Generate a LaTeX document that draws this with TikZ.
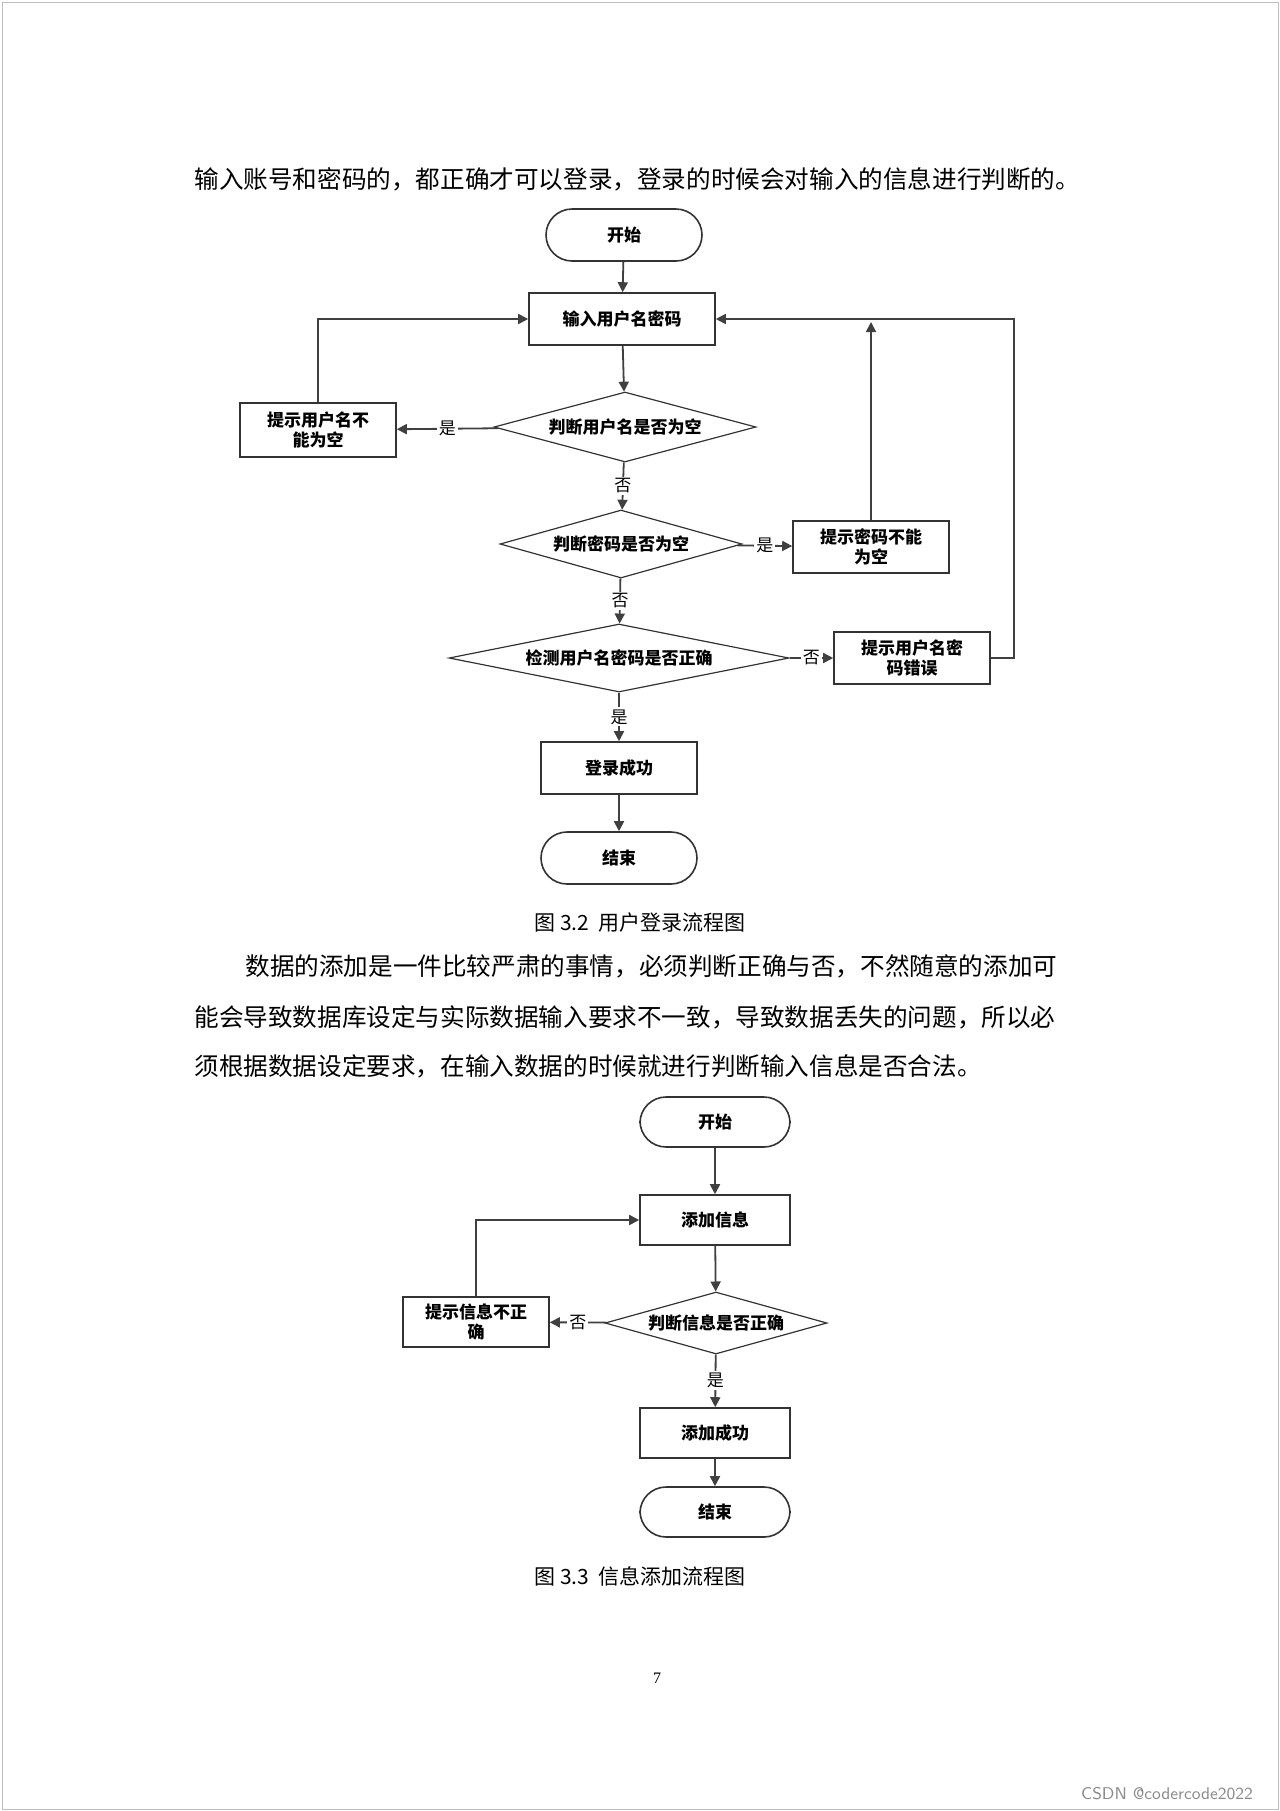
\documentclass[tikz,border=0pt]{standalone}
\usepackage{fontspec}
\setmainfont{Liberation Serif}
\newfontfamily\cjk{Noto Sans CJK SC}
\usetikzlibrary{shapes.geometric,arrows.meta}
\begin{document}
\begin{tikzpicture}[x=0.5pt,y=-0.5pt,
 every node/.style={inner sep=0pt},
 box/.style={draw=black!80,line width=0.8pt,minimum width=78pt,minimum height=26pt,align=center,font=\cjk\fontsize{8.5}{10}\selectfont\bfseries},
 term/.style={box,rounded corners=13pt},
 dia/.style={draw=black!80,line width=0.6pt,diamond,aspect=3.8,inner sep=0pt,font=\cjk\fontsize{8.5}{10}\selectfont\bfseries},
 arr/.style={draw=black!75,line width=0.9pt,-{Triangle[length=5pt,width=5pt]}},
 lab/.style={font=\cjk\fontsize{8.5}{10}\selectfont,fill=white,inner sep=1pt},
 para/.style={font=\cjk\fontsize{12.3}{14}\selectfont,anchor=west}]
\useasboundingbox (0,0) rectangle (1280,1811);
\draw[black!25,line width=0.5pt] (2,2) rectangle (1278,1809);
\node[para] (t0) at (194,179) {输入账号和密码的，都正确才可以登录，登录的时候会对输入的信息进行判断的。};
% chart 1
\node[term,minimum width=78pt] (s1) at (624,235) {开始};
\node[box,minimum width=93pt] (in) at (622,319) {输入用户名密码};
\node[dia,minimum width=131pt,minimum height=35pt] (d1) at (625,427) {判断用户名是否为空};
\node[box,minimum height=27pt] (b1) at (318,430) {提示用户名不\\能为空};
\node[dia,minimum width=121pt,minimum height=34pt] (d2) at (621,544) {判断密码是否为空};
\node[box] (b2) at (871,547) {提示密码不能\\为空};
\node[dia,minimum width=170pt,minimum height=34pt] (d3) at (619,658) {检测用户名密码是否正确};
\node[box] (b3) at (912,658) {提示用户名密\\码错误};
\node[box] (ok) at (619,768) {登录成功};
\node[term] (e1) at (619,858) {结束};
\coordinate (c1) at (318,319);
\coordinate (c2) at (871,322);
\coordinate (c3) at (1014,658);
\coordinate (c4) at (1014,319);
\draw[arr] (s1) -- (in);
\draw[arr] (in) -- (d1);
\draw[arr] (d1) -- node[lab]{是} (b1);
\draw[arr] (b1.north) -- (c1) -- (in.west);
\draw[arr] (d1) -- node[lab]{否} (d2);
\draw[arr] (d2) -- node[lab]{是} (b2);
\draw[arr] (b2.north) -- (c2);
\draw[arr] (d2) -- node[lab]{否} (d3);
\draw[arr] (d3) -- node[lab]{否} (b3);
\draw[arr] (b3.east) -- (c3) -- (c4) -- (in.east);
\draw[arr] (d3) -- node[lab]{是} (ok);
\draw[arr] (ok) -- (e1);
\node[font=\cjk\fontsize{10.5}{12}\selectfont] (cap1) at (640,923) {图 3.2\ \ 用户登录流程图};
\node[para] (p1) at (245,966) {数据的添加是一件比较严肃的事情，必须判断正确与否，不然随意的添加可};
\node[para] (p2) at (194,1017) {能会导致数据库设定与实际数据输入要求不一致，导致数据丢失的问题，所以必};
\node[para] (p3) at (194,1066) {须根据数据设定要求，在输入数据的时候就进行判断输入信息是否合法。};
% chart 2
\node[term,minimum width=75pt,minimum height=25pt] (s2) at (715,1122) {开始};
\node[box,minimum width=75pt,minimum height=25pt] (add) at (715,1220) {添加信息};
\node[dia,minimum width=111pt,minimum height=31pt] (d4) at (716,1323) {判断信息是否正确};
\node[box,minimum width=73pt,minimum height=25pt] (b4) at (476,1322) {提示信息不正\\确};
\node[box,minimum width=75pt,minimum height=25pt] (ok2) at (715,1433) {添加成功};
\node[term,minimum width=75pt,minimum height=25pt] (e2) at (715,1512) {结束};
\coordinate (c5) at (476,1220);
\draw[arr] (s2) -- (add);
\draw[arr] (add) -- (d4);
\draw[arr] (d4) -- node[lab]{否} (b4);
\draw[arr] (b4.north) -- (c5) -- (add.west);
\draw[arr] (d4) -- node[lab]{是} (ok2);
\draw[arr] (ok2) -- (e2);
\node[font=\cjk\fontsize{10.5}{12}\selectfont] (cap2) at (640,1576) {图 3.3\ \ 信息添加流程图};
\node[font=\fontsize{8}{10}\selectfont] (pg) at (657,1678) {7};
\node[font=\sffamily\fontsize{8.5}{10}\selectfont,text=black!45] (wm) at (1167,1794) {CSDN @codercode2022};
\end{tikzpicture}
\end{document}
